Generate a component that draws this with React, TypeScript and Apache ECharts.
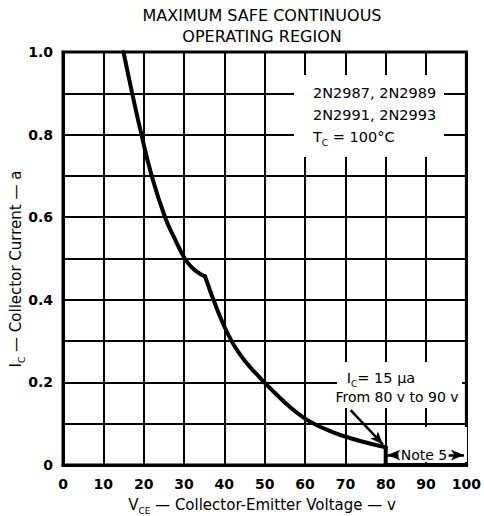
import React, { useEffect, useRef } from "react";
import * as echarts from "echarts";

// ---- data ----
const X_MIN = 0;
const X_MAX = 100;
const X_STEP = 10;
const Y_MIN = 0;
const Y_MAX = 1;
const Y_STEP = 0.1;
const Y_LABELS = ["0", "0.2", "0.4", "0.6", "0.8", "1.0"];

// Safe operating boundary: V_CE (v) vs I_C (a), in three pieces
const UPPER_VCE = [15, 17.15, 19.45, 22.0, 25.3, 27.6, 30.2, 32.1, 33.8, 35.2];
const UPPER_IC = [1.0, 0.9, 0.8, 0.7, 0.6, 0.55, 0.5, 0.477, 0.464, 0.457];
const LOWER_VCE = [35.2, 36.25, 37.3, 39.55, 41.8, 43.8, 45.85, 47.9, 49.9, 53, 56.05, 59.1, 62.2, 66.65, 71.1, 75.55, 80];
const LOWER_IC = [0.457, 0.428, 0.4, 0.345, 0.3, 0.269, 0.243, 0.221, 0.2, 0.17, 0.142, 0.1185, 0.1, 0.0804, 0.0653, 0.0532, 0.043];
const STEP_VCE = [80, 80, 100];
const STEP_IC = [0.043, 0, 0];

// annotation arrows (data coords)
const ARROW_MAIN = [[71.3, 0.133], [79.3, 0.05]];
const ARROW_NOTE_LEFT = [[83.2, 0.024], [80.4, 0.024]];
const ARROW_NOTE_RIGHT = [[95.6, 0.024], [99.4, 0.024]];

const TITLE_LINES = ["MAXIMUM SAFE CONTINUOUS", "OPERATING REGION"];
const DEVICE_LINES = ["2N2987, 2N2989", "2N2991, 2N2993"];

const FONT = "DejaVu Sans";

export default function App() {
  const ref = useRef<HTMLDivElement>(null);

  useEffect(() => {
    if (!ref.current) return;
    const chart = echarts.init(ref.current, null, { renderer: "svg" });

    const subRich = {
      n: { fontFamily: FONT, fontSize: 15, fill: "#000", lineHeight: 20 },
      s: { fontFamily: FONT, fontSize: 9, fill: "#000", verticalAlign: "bottom", lineHeight: 11 },
    };
    const subRich14 = {
      n: { fontFamily: FONT, fontSize: 14.5, fill: "#000", lineHeight: 20 },
      s: { fontFamily: FONT, fontSize: 9, fill: "#000", verticalAlign: "bottom", lineHeight: 11 },
    };

    const arrow = (pts: number[][]) => [
      { coord: pts[0], symbol: "none" },
      { coord: pts[1], symbol: "arrow" },
    ];

    const curveStyle = { color: "#000", width: 4, cap: "round", join: "round" };
    const pair = (xs: number[], ys: number[]) => xs.map((x, i) => [x, ys[i]]);

    chart.setOption({
      animation: false,
      backgroundColor: "#fff",
      grid: {
        left: 63,
        right: 14,
        top: 52,
        bottom: 51,
        show: true,
        borderColor: "#000",
        borderWidth: 3,
        containLabel: false,
      },
      xAxis: {
        type: "value",
        min: X_MIN,
        max: X_MAX,
        interval: X_STEP,
        axisLine: { show: true, lineStyle: { color: "#000", width: 3 } },
        axisTick: { show: false },
        splitLine: { show: true, lineStyle: { color: "#000", width: 2 } },
        axisLabel: {
          color: "#000",
          fontFamily: FONT,
          fontWeight: "bold",
          fontSize: 14,
          margin: 12,
        },
      },
      yAxis: {
        type: "value",
        min: Y_MIN,
        max: Y_MAX,
        interval: Y_STEP,
        axisLine: { show: true, lineStyle: { color: "#000", width: 3 } },
        axisTick: { show: false },
        splitLine: { show: true, lineStyle: { color: "#000", width: 2 } },
        axisLabel: {
          color: "#000",
          fontFamily: FONT,
          fontWeight: "bold",
          fontSize: 14,
          margin: 10,
          formatter: (v: number) => {
            const k = Math.round(v * 10);
            return k % 2 === 0 ? Y_LABELS[k / 2] : "";
          },
        },
      },
      series: [
        {
          type: "line",
          data: pair(UPPER_VCE, UPPER_IC),
          showSymbol: false,
          symbol: "none",
          smooth: 0.5,
          lineStyle: curveStyle,
          z: 5,
          silent: true,
        },
        {
          type: "line",
          data: pair(LOWER_VCE, LOWER_IC),
          showSymbol: false,
          symbol: "none",
          smooth: 0.5,
          lineStyle: curveStyle,
          z: 5,
          silent: true,
        },
        {
          type: "line",
          data: pair(STEP_VCE, STEP_IC),
          showSymbol: false,
          symbol: "none",
          lineStyle: curveStyle,
          z: 5,
          silent: true,
          markLine: {
            silent: true,
            symbolSize: [8, 13],
            lineStyle: { color: "#000", width: 2.5, type: "solid" },
            itemStyle: { color: "#000" },
            label: { show: false },
            data: [arrow(ARROW_MAIN), arrow(ARROW_NOTE_LEFT), arrow(ARROW_NOTE_RIGHT)],
          },
        },
      ],
      graphic: [
        // white masks behind annotation text
        { type: "rect", z: 1, shape: { x: 294, y: 75, width: 150, height: 82 }, style: { fill: "#fff" } },
        { type: "rect", z: 1, shape: { x: 337, y: 362, width: 125, height: 46 }, style: { fill: "#fff" } },
        { type: "rect", z: 1, shape: { x: 391, y: 427, width: 76, height: 35 }, style: { fill: "#fff" } },
        // title
        {
          type: "text", z: 10, x: 262, y: 15,
          style: { text: TITLE_LINES[0], fontFamily: FONT, fontSize: 16, fill: "#000", align: "center", verticalAlign: "middle" },
        },
        {
          type: "text", z: 10, x: 262, y: 36,
          style: { text: TITLE_LINES[1], fontFamily: FONT, fontSize: 16, fill: "#000", align: "center", verticalAlign: "middle" },
        },
        // device box
        {
          type: "text", z: 10, x: 313, y: 93,
          style: { text: DEVICE_LINES[0], fontFamily: FONT, fontSize: 14.5, fill: "#000", align: "left", verticalAlign: "middle" },
        },
        {
          type: "text", z: 10, x: 313, y: 115,
          style: { text: DEVICE_LINES[1], fontFamily: FONT, fontSize: 14.5, fill: "#000", align: "left", verticalAlign: "middle" },
        },
        {
          type: "text", z: 10, x: 313, y: 137,
          style: { text: "{n|T}{s|C}{n| = 100°C}", fill: "#000", rich: subRich14, align: "left", verticalAlign: "middle" },
        },
        // leakage note
        {
          type: "text", z: 10, x: 381, y: 378,
          style: { text: "{n|I}{s|C}{n|= 15 μa}", fill: "#000", rich: subRich14, align: "center", verticalAlign: "middle" },
        },
        {
          type: "text", z: 10, x: 397, y: 397,
          style: { text: "From 80 v to 90 v", fontFamily: FONT, fontSize: 14, fill: "#000", align: "center", verticalAlign: "middle" },
        },
        {
          type: "text", z: 10, x: 424, y: 455,
          style: { text: "Note 5", fontFamily: FONT, fontSize: 14, fill: "#000", align: "center", verticalAlign: "middle" },
        },
        // axis titles
        {
          type: "text", z: 10, x: 262, y: 505,
          style: {
            text: "{n|V}{s|CE}{n| — Collector-Emitter Voltage — v}",
            fill: "#000", rich: subRich, align: "center", verticalAlign: "middle",
          },
        },
        {
          type: "text", z: 10, x: 16, y: 269, rotation: Math.PI / 2,
          style: {
            text: "{n|I}{s|C}{n| — Collector Current — a}",
            fill: "#000", rich: subRich, align: "center", verticalAlign: "middle",
          },
        },
      ],
    });

    return () => chart.dispose();
  }, []);

  return (
    <div
      ref={ref}
      style={{ position: "absolute", left: 0, top: 0, width: 484, height: 516 }}
    />
  );
}
